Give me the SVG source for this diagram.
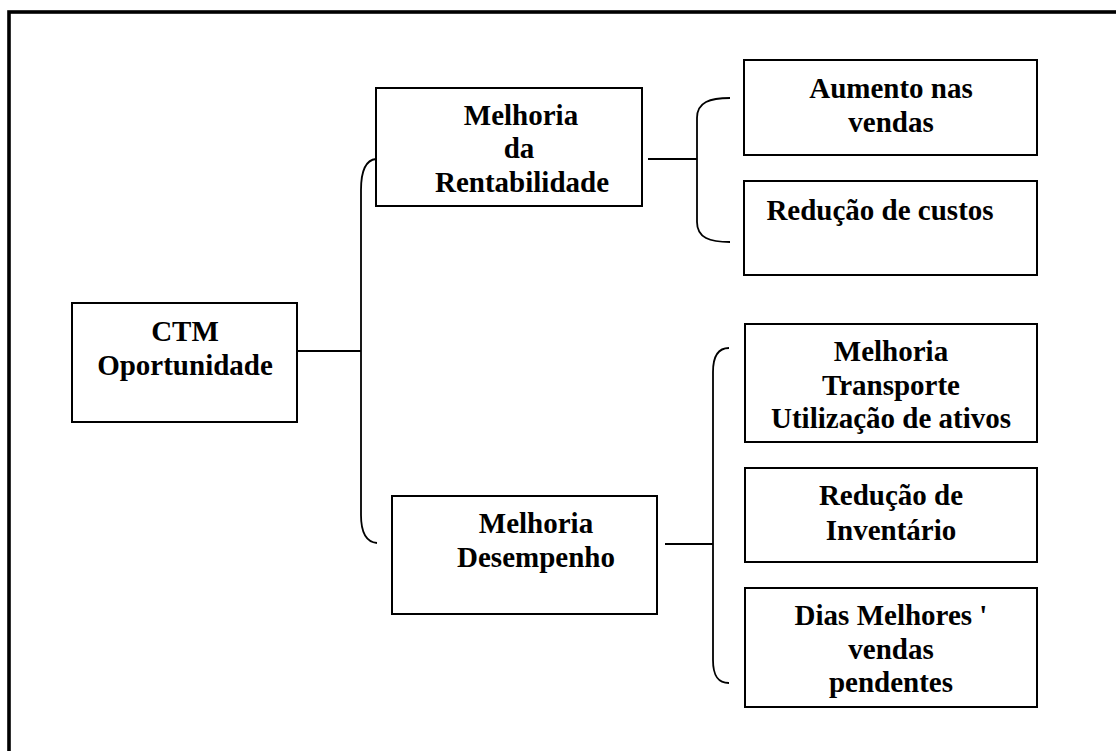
<svg xmlns="http://www.w3.org/2000/svg" width="1116" height="751" viewBox="0 0 1116 751">
<style>
.box{fill:#fff;stroke:#000;stroke-width:2}
.ln{fill:none;stroke:#000;stroke-width:1.8}
text{font-family:"Liberation Serif","Times New Roman",serif;font-weight:bold;font-size:29px;fill:#000;text-anchor:middle}
</style>
<rect x="0" y="0" width="1116" height="751" fill="#fff"/>
<rect x="9" y="12" width="1120" height="760" fill="none" stroke="#000" stroke-width="3.6"/>
<g id="connectors">
<path class="ln" d="M297,351 H361"/>
<path class="ln" d="M376,159 C366,160 361,170 361,190 V515 C361,532 366,542 377,543"/>
<path class="ln" d="M648,159 H697"/>
<path class="ln" d="M730,98 C710,98 697,102 697,118 V222 C697,238 710,242 730,242"/>
<path class="ln" d="M665,544 H713"/>
<path class="ln" d="M729,348 C718,348 713,356 713,372 V660 C713,676 718,683 729,683"/>
</g>
<g id="ctm">
<rect class="box" x="72" y="303" width="225" height="119"/>
<text x="185" y="341">CTM</text>
<text x="185" y="375">Oportunidade</text>
</g>
<g id="rentabilidade">
<rect class="box" x="376" y="88" width="266" height="118"/>
<text x="521" y="125">Melhoria</text>
<text x="519" y="158">da</text>
<text x="522" y="192">Rentabilidade</text>
</g>
<g id="desempenho">
<rect class="box" x="392" y="496" width="265" height="118"/>
<text x="536" y="533">Melhoria</text>
<text x="536" y="567">Desempenho</text>
</g>
<g id="aumento">
<rect class="box" x="744" y="60" width="293" height="95"/>
<text x="891" y="98">Aumento nas</text>
<text x="891" y="132">vendas</text>
</g>
<g id="reducao-custos">
<rect class="box" x="744" y="181" width="293" height="94"/>
<text x="880" y="220">Redução de custos</text>
</g>
<g id="transporte">
<rect class="box" x="745" y="324" width="292" height="118"/>
<text x="891" y="361">Melhoria</text>
<text x="891" y="395">Transporte</text>
<text x="891" y="428">Utilização de ativos</text>
</g>
<g id="inventario">
<rect class="box" x="745" y="468" width="292" height="94"/>
<text x="891" y="505">Redução de</text>
<text x="891" y="540">Inventário</text>
</g>
<g id="dias">
<rect class="box" x="745" y="588" width="292" height="119"/>
<text x="891" y="625">Dias Melhores '</text>
<text x="891" y="659">vendas</text>
<text x="891" y="692">pendentes</text>
</g>
</svg>
